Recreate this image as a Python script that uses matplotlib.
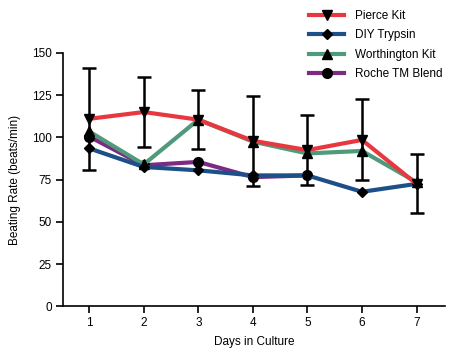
import matplotlib
matplotlib.use("Agg")
import matplotlib.pyplot as plt
from matplotlib import font_manager

days = [1, 2, 3, 4, 5, 6, 7]
pierce = [111, 115, 110.5, 98, 92.5, 98.5, 72.5]
pierce_err = [30, 20.5, 17.5, 26.5, 20.5, 24, 17.5]
diy = [93.5, 82.5, 80.5, 77.5, 77.5, 67.8, 72.5]
worthington = [103.5, 84, 110.5, 97.5, 90.5, 92, 73.5]
roche = [100.5, 83.5, 85.5, 76.5, 77.5]
roche_days = [1, 2, 3, 4, 5]

yticks = [0, 25, 50, 75, 100, 125, 150]

names = [f.name for f in font_manager.fontManager.ttflist]
fam = 'Liberation Sans Narrow' if 'Liberation Sans Narrow' in names else 'Liberation Sans'
plt.rcParams['font.family'] = [fam, 'DejaVu Sans']

red = '#e8383f'
blue = '#1d4f88'
green = '#4f9a7a'
purple = '#7d2a82'

fig = plt.figure(figsize=(4.59, 3.6), dpi=100)
ax = fig.add_axes([0.1373, 0.149, 0.832, 0.704])

lw = 3.0
h_roche, = ax.plot(roche_days, roche, color=purple, lw=lw, marker='o', ms=7,
                   mfc='black', mec='black', zorder=2, label='Roche TM Blend')
h_worth, = ax.plot(days, worthington, color=green, lw=lw, marker='^', ms=6.5,
                   mfc='black', mec='black', zorder=3, label='Worthington Kit')
h_diy, = ax.plot(days, diy, color=blue, lw=lw, marker='D', ms=5,
                 mfc='black', mec='black', zorder=4, label='DIY Trypsin')
h_pierce, = ax.plot(days, pierce, color=red, lw=lw, marker='v', ms=6.5,
                    mfc='black', mec='black', zorder=5, label='Pierce Kit')
ax.errorbar(days, pierce, yerr=pierce_err, fmt='none', ecolor='black',
            elinewidth=1.8, capsize=5, capthick=1.8, zorder=6)

ax.set_xlim(0.52, 7.52)
ax.set_ylim(0, 150)
ax.set_xticks(days)
ax.set_yticks(yticks)
ax.spines['top'].set_visible(False)
ax.spines['right'].set_visible(False)
ax.spines['left'].set_linewidth(1.2)
ax.spines['bottom'].set_linewidth(1.2)
ax.tick_params(axis='both', direction='out', length=5, width=1.2, labelsize=8.5, pad=3)
ax.set_xlabel('Days in Culture', fontsize=8.5, labelpad=5)
ax.set_ylabel('Beating Rate (beats/min)', fontsize=8.5, labelpad=8)

leg = fig.legend(handles=[h_pierce, h_diy, h_worth, h_roche],
                 loc='upper left', bbox_to_anchor=(0.655, 0.995), frameon=False,
                 fontsize=8.5, handlelength=3.0, handletextpad=0.9,
                 labelspacing=0.62, borderaxespad=0.3)

fig.savefig('out.png', dpi=100)
